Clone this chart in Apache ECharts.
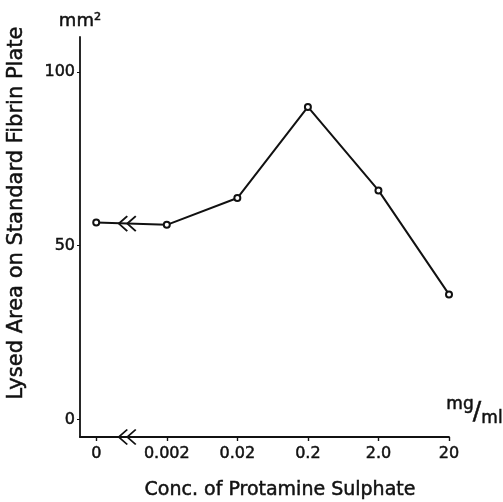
<!DOCTYPE html>
<html>
<head>
<meta charset="utf-8">
<script src="https://cdn.jsdelivr.net/npm/echarts@6/dist/echarts.min.js"></script>
<style>
  html, body { margin: 0; padding: 0; background: #fff; }
  #container { width: 503px; height: 502px; }
</style>
</head>
<body>
<div id="container"></div>
<script>
  // concentrations (mg/ml), drawn equally spaced
  let categories = ['0', '0.002', '0.02', '0.2', '2.0', '20'];
  let positions = [0, 1, 2, 3, 4, 5];
  let lysedArea = [56.7, 56.0, 63.7, 89.9, 65.9, 36.0];
  let yTicks = [0, 50, 100];
  let breakX = 0.44;

  let font = 'DejaVu Sans';
  let ink = '#111';
  // a thin outline makes the regular face look like the heavier print
  let heavy = { textBorderColor: ink, textBorderWidth: 0.5 };

  let seriesData = [];
  for (let i = 0; i < positions.length; i++) {
    seriesData.push([positions[i], lysedArea[i]]);
  }
  // "<<" axis break mark
  let breakPath = 'path://M9,0 L1,8 L9,16 M17,0 L9,8 L17,16';

  function label(text, x, y, size, rot) {
    return {
      type: 'text', x: x, y: y, rotation: rot || 0,
      style: {
        text: text, fill: ink, font: size + 'px "DejaVu Sans"',
        align: 'center', verticalAlign: 'middle',
        stroke: ink, lineWidth: 0.5
      }
    };
  }

  let myChart = echarts.init(document.getElementById('container'));
  let option = {
    animation: false,
    backgroundColor: '#fff',
    grid: { left: 80, right: 54, top: 37, bottom: 65 },
    xAxis: {
      type: 'value',
      min: -0.23,
      max: 5,
      axisLine: { onZero: false, lineStyle: { color: ink, width: 1.8 } },
      axisTick: { customValues: positions, length: 4, lineStyle: { color: ink, width: 1.4 } },
      axisLabel: Object.assign({
        customValues: positions,
        formatter: function (v) { return categories[Math.round(v)]; },
        color: ink, fontFamily: font, fontSize: 16, margin: 9
      }, heavy),
      splitLine: { show: false }
    },
    yAxis: {
      type: 'value',
      min: -5,
      max: 110,
      name: 'mm²',
      nameLocation: 'end',
      nameGap: 7,
      nameTextStyle: Object.assign({ color: ink, fontFamily: font, fontSize: 18, align: 'center' }, heavy),
      axisLine: { onZero: false, lineStyle: { color: ink, width: 1.8 } },
      axisTick: { customValues: yTicks, length: 3, lineStyle: { color: ink } },
      axisLabel: Object.assign({ customValues: yTicks, color: ink, fontFamily: font, fontSize: 16, margin: 5 }, heavy),
      splitLine: { show: false }
    },
    graphic: [
      label('Lysed Area on Standard Fibrin Plate', 17, 213, 21, Math.PI / 2),
      label('Conc. of Protamine Sulphate', 280, 490, 19),
      label('mg', 460, 405, 17),
      label('/', 477, 412, 25),
      label('ml', 492, 419, 17)
    ],
    series: [
      {
        type: 'line',
        data: seriesData,
        symbol: 'emptyCircle',
        symbolSize: 6,
        lineStyle: { color: ink, width: 2 },
        itemStyle: { color: ink, borderWidth: 1.4 },
        markPoint: {
          symbol: breakPath,
          symbolSize: [17, 15],
          silent: true,
          label: { show: false },
          itemStyle: { color: 'none', borderColor: ink, borderWidth: 1.8 },
          data: [
            { coord: [breakX, (lysedArea[0] + lysedArea[1]) / 2] },
            { coord: [breakX, -5] }
          ]
        }
      }
    ]
  };
  myChart.setOption(option);
</script>
</body>
</html>
